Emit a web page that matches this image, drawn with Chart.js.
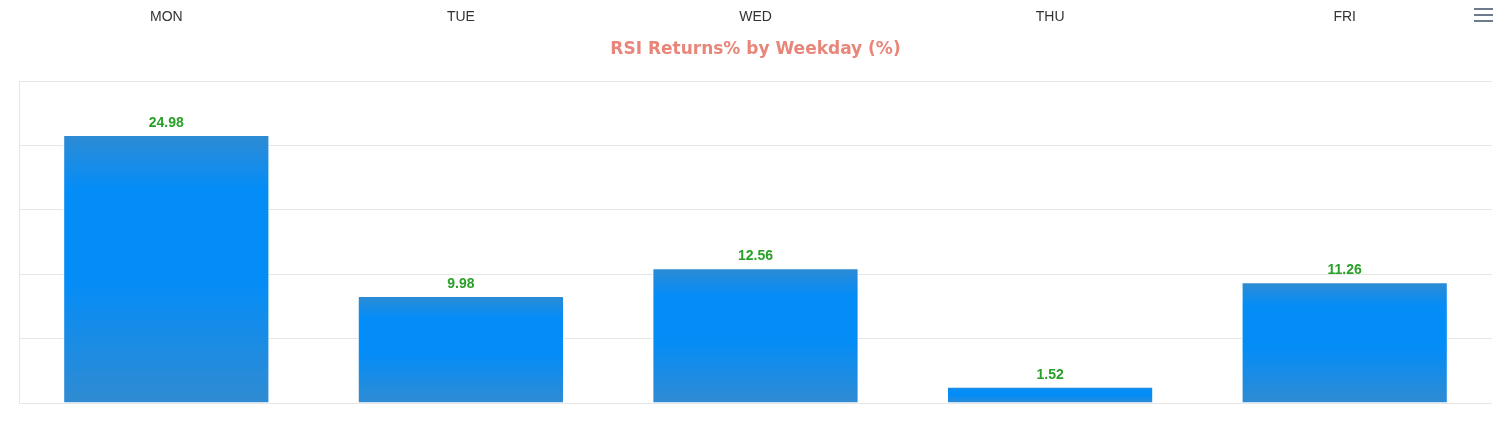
<!DOCTYPE html>
<html>
<head>
<meta charset="utf-8">
<script src="https://cdn.jsdelivr.net/npm/chart.js@4"></script>
<style>
  html, body { margin: 0; padding: 0; background: #ffffff; }
  #wrap { position: relative; width: 1499px; height: 428px; }
  #menu { position: absolute; left: 1474px; top: 8px; width: 19px; }
  #menu span { display: block; height: 2px; background: #6e7b8c; margin-bottom: 4px; }
</style>
</head>
<body>
<div id="wrap">
  <canvas id="c" width="1499" height="428"></canvas>
  <div id="menu"><span></span><span></span><span></span></div>
</div>
<script>
const categories = ['MON', 'TUE', 'WED', 'THU', 'FRI'];
const returnsPct = [24.98, 9.98, 12.56, 1.52, 11.26];
const titleText = 'RSI Returns% by Weekday (%)';
const yMax = 30;
const yStep = 6;

function barGradient(ctx) {
  const chart = ctx.chart;
  if (!chart.chartArea || ctx.type !== 'data') return '#058df7';
  const ys = chart.scales.y;
  const top = ys.getPixelForValue(ctx.raw);
  const base = ys.getPixelForValue(0);
  const g = chart.ctx.createLinearGradient(0, top, 0, base);
  g.addColorStop(0, '#2e8bd3');
  g.addColorStop(0.2, '#058df7');
  g.addColorStop(0.55, '#058df7');
  g.addColorStop(1, '#308bd2');
  return g;
}

const valueLabels = {
  id: 'valueLabels',
  afterDatasetsDraw(chart) {
    const c = chart.ctx;
    const meta = chart.getDatasetMeta(0);
    c.save();
    c.font = 'bold 14px "Liberation Sans", Arial, sans-serif';
    c.fillStyle = '#28a028';
    c.textAlign = 'center';
    c.textBaseline = 'middle';
    meta.data.forEach((bar, i) => {
      c.fillText(returnsPct[i].toFixed(2), bar.x, bar.y - 12);
    });
    c.restore();
  }
};

new Chart(document.getElementById('c'), {
  type: 'bar',
  data: {
    labels: categories,
    datasets: [{
      data: returnsPct,
      backgroundColor: barGradient,
      borderColor: '#ffffff',
      borderWidth: 1,
      barPercentage: 0.7,
      categoryPercentage: 1.0
    }]
  },
  options: {
    responsive: false,
    animation: false,
    layout: { padding: { left: 19, right: 7, top: 9, bottom: 25 } },
    plugins: {
      legend: { display: false },
      tooltip: { enabled: false },
      title: {
        display: true,
        text: titleText,
        color: '#e8867a',
        font: { family: '"DejaVu Sans", "Liberation Sans", Arial, sans-serif', size: 17, weight: 'bold' },
        padding: { top: 6, bottom: 21 },
        weight: 100
      }
    },
    scales: {
      x: {
        position: 'top',
        weight: 5000,
        grid: { display: false },
        border: { display: false },
        ticks: {
          color: '#333333',
          font: { family: '"Liberation Sans", Arial, sans-serif', size: 14 },
          padding: 0,
          maxRotation: 0
        }
      },
      y: {
        min: 0,
        max: yMax,
        ticks: { display: false, stepSize: yStep },
        grid: { color: '#e6e6e6', drawTicks: false },
        border: { display: true, color: '#e6e6e6' }
      }
    }
  },
  plugins: [valueLabels]
});
</script>
</body>
</html>
